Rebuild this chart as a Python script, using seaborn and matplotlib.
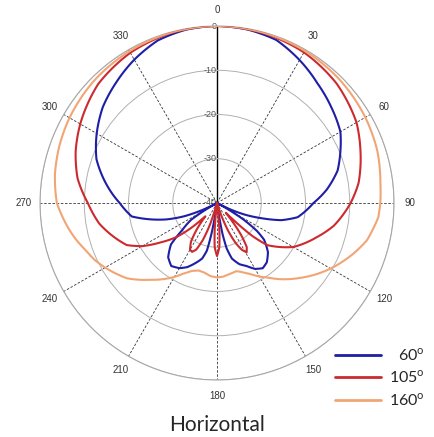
import numpy as np
import pandas as pd
import matplotlib
matplotlib.use("Agg")
import matplotlib.pyplot as plt
import seaborn as sns

# ---------------- DATA ----------------
# polar response in dB, angle in degrees (0 at top, clockwise)
ANG_60 = [0, 10, 20, 30, 40, 50, 60, 67, 75, 83, 90, 100, 105, 109, 113, 116, 118,
          120, 122, 125, 128, 134, 140, 145, 150, 155, 160, 165, 168, 170, 172, 180,
          188, 190, 192, 195, 200, 205, 210, 216, 222, 228, 232, 237, 240, 242, 244,
          248, 252, 255, 261, 270, 280, 290, 300, 310, 320, 330, 340, 350, 360]
DB_60 = [0, -0.2, -0.8, -2.7, -4.7, -6.3, -7.8, -9.7, -11.8, -15, -18.2, -21.5, -25, -29.5, -33.5, -37, -40,
         -37, -33, -29, -26.5, -24, -22.5, -22, -22.8, -24.3, -25.3, -27, -29.5, -33, -40, -40,
         -40, -33.5, -29, -27, -25.5, -24, -23, -22.4, -23.5, -26, -30, -33, -38, -40, -37,
         -32, -28, -25.5, -20.5, -18, -14.5, -11, -8.6, -6.3, -4.5, -2.6, -0.9, -0.2, 0]

ANG_105 = [0, 15, 30, 45, 60, 70, 82, 90, 101, 109, 120, 130, 133, 136, 138, 140, 143,
           146, 149, 152, 155, 158, 161, 163, 173, 175, 177, 180, 183, 185, 187, 196,
           198, 201, 204, 207, 210, 214, 218, 221, 223, 226, 230, 235, 240, 245, 250,
           260, 270, 280, 290, 300, 315, 330, 345, 360]
DB_105 = [0, -0.2, -0.7, -1.8, -3.6, -5.5, -7.7, -9.8, -13.1, -16.2, -20.1, -25.2, -29, -35, -37, -35, -31,
          -28, -27, -28, -30, -33, -37, -40, -40, -34, -30, -28, -30, -34, -40, -40,
          -35, -31, -28.5, -27.6, -27.8, -29.5, -33, -36, -35, -32, -28, -24.5, -20.5, -17.5, -16,
          -13, -10.8, -8, -6, -4.3, -2, -0.8, -0.2, 0]

ANG_160 = [0, 15, 30, 45, 60, 72, 83, 90, 95, 104, 110, 119, 126, 132, 140, 146, 150,
           155, 160, 164, 170, 175, 180, 185, 190, 195, 200, 205, 210, 215, 221, 230,
           240, 245, 250, 255, 260, 270, 280, 290, 300, 315, 330, 345, 360]
DB_160 = [0, -0.1, -0.3, -0.7, -1.3, -1.9, -2.8, -3.1, -3.4, -5.1, -7, -10, -12.5, -14.7, -17.5, -19.7, -20.8,
          -22.3, -23.4, -24, -23.7, -23.3, -23.2, -23.4, -24, -24.2, -23.7, -22.5, -20.7, -19, -17, -13.5,
          -10.8, -9.5, -8.5, -7.2, -6, -3.8, -2.8, -2.1, -1.5, -0.8, -0.4, -0.1, 0]

LABELS = ["60$^{\\rm o}$", "105$^{\\rm o}$", "160$^{\\rm o}$"]
COLORS = ["#1e1ea6", "#cc2a2e", "#f2a574"]
THETA_TICKS = [0, 30, 60, 90, 120, 150, 180, 210, 240, 270, 300, 330]
R_TICKS = [-40, -30, -20, -10, 0]

# ---------------- STYLE ----------------
sns.set_style("white")
plt.rcParams['font.family'] = ['Liberation Sans', 'DejaVu Sans']
plt.rcParams['mathtext.fontset'] = 'custom'
plt.rcParams['mathtext.rm'] = 'Lato'

fig = plt.figure(figsize=(4.35, 4.37), dpi=100)
ax = fig.add_axes([0.092, 0.1305, 0.8138, 0.81], projection='polar')
ax.set_theta_zero_location('N')
ax.set_theta_direction(-1)

# ---------------- CURVES ----------------
frames = []
for lab, ang, db in zip(LABELS, [ANG_60, ANG_105, ANG_160], [DB_60, DB_105, DB_160]):
    frames.append(pd.DataFrame({'theta': np.deg2rad(ang), 'db': db, 'series': lab}))
df = pd.concat(frames, ignore_index=True)

sns.lineplot(data=df, x='theta', y='db', hue='series', palette=dict(zip(LABELS, COLORS)),
             sort=False, estimator=None, linewidth=1.5, ax=ax, legend=False, zorder=3)

# let the polar transform draw segments as arcs instead of chords
for ln in ax.get_lines():
    ln.get_path()._interpolation_steps = 40

ax.set_ylim(-40, 0)
ax.set_yticks(R_TICKS)
ax.set_yticklabels([])
ax.set_xticks(np.deg2rad(THETA_TICKS))
ax.set_xticklabels([str(t) for t in THETA_TICKS], fontsize=7, color='#333333')
ax.tick_params(axis='x', pad=1)
ax.set_xlabel('')
ax.set_ylabel('')

# grid: grey rings, dashed spokes, solid 0 spoke
ax.yaxis.grid(True, color='#b0b0b0', lw=0.7, ls='-')
ax.xaxis.grid(True, color='#333333', lw=0.6, ls=(0, (3, 2)))
g0 = ax.xaxis.get_gridlines()[0]
g0.set_linestyle('-')
g0.set_color('black')
g0.set_linewidth(1.0)
ax.spines['polar'].set_color('#a8a8a8')
ax.spines['polar'].set_linewidth(0.8)

# radial labels along the 0 spoke
for v in R_TICKS:
    ax.annotate(str(v), xy=(0, v), xytext=(-0.5, 0), textcoords='offset points',
                ha='right', va='center', fontsize=6.5, color='#555555', zorder=2)

# legend
handles = ax.get_lines()[:3]
leg = fig.legend(handles, LABELS, loc='center', bbox_to_anchor=(0.874, 0.136),
                 frameon=False, fontsize=11.5, handlelength=2.9, handletextpad=0.5,
                 labelspacing=0.35, borderpad=0)
for t, lab in zip(leg.get_texts(), ["\u2007" + LABELS[0], LABELS[1], LABELS[2]]):
    t.set_text(lab)
    t.set_fontfamily(['Lato', 'DejaVu Sans'])
for l in leg.get_lines():
    l.set_linewidth(2.0)

fig.text(0.5, 0.027, "Horizontal", ha='center', va='center', fontsize=15, family='Lato')

fig.savefig("out.png", dpi=100)
